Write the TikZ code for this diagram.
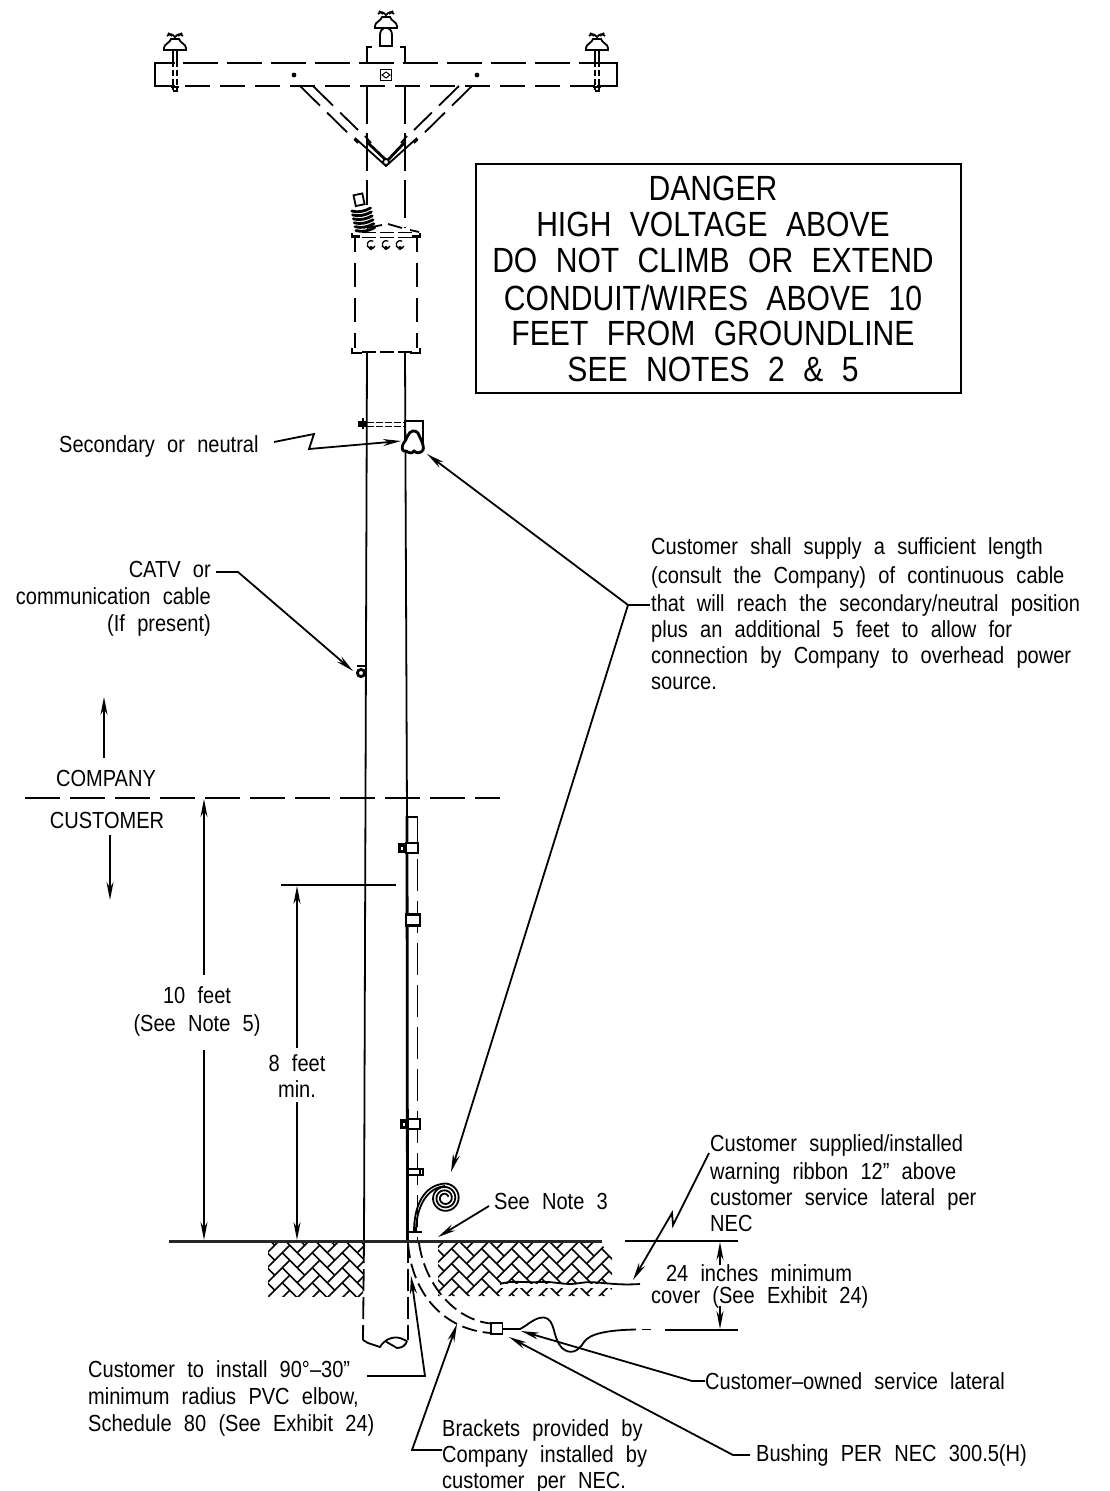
\documentclass[tikz,border=0pt]{standalone}
\usepackage{fontspec}
\usetikzlibrary{arrows.meta}
\setmainfont[WordSpace=2.2,FakeStretch=0.86]{Liberation Sans}
\newcommand{\capsz}{\fontsize{35}{35}\selectfont}
\newcommand{\txtsz}{\fontsize{23.3}{26}\selectfont}
\tikzset{
  ln/.style={line width=1.8pt},
  thk/.style={line width=2.8pt},
  thn/.style={line width=1.1pt},
  ar/.style={ln,-{Stealth[length=18pt,width=7pt]}},
  longdash/.style={ln,dash pattern=on 35pt off 9pt},
  meddash/.style={ln,dash pattern=on 25pt off 10pt},
  shortdash/.style={ln,dash pattern=on 15pt off 6pt},
  lbl/.style={inner sep=0pt,font=\txtsz,align=left},
  capl/.style={inner sep=0pt,font=\capsz,align=center},
  insul/.pic={
    \draw[ln] (-8,3) .. controls (-5,0) and (-3,1) .. (0,4) .. controls (3,1) and (5,0) .. (8,3);
    \draw[ln] (-7,0) -- (-3,3) (7,0) -- (3,3);
    \draw[ln,fill=white] (-4,6) .. controls (-5,10) and (-11,11) .. (-11,15) -- (-11,17) -- (11,17) -- (11,15) .. controls (11,11) and (5,10) .. (4,6) -- cycle;
  },
  pinrod/.pic={
    \draw[line width=1.5pt] (-2,0) -- (-2,11) (2,0) -- (2,11);
    \draw[line width=1.5pt,dash pattern=on 6pt off 3pt] (-2,11) -- (-2,40) (2,11) -- (2,40);
    \draw[thk] (-4,37) -- (4,37) (-2.5,41) -- (2.5,41);
  },
  hbone/.pic={
    \foreach \n in {-16,...,16}{\foreach \m in {-8,...,8}{
      \pgfmathsetmacro{\s}{\n+4*\m}
      \draw[line width=1.6pt] (\s,-\n) -- (\s+3,-\n);
      \draw[line width=1.6pt] (1+\n,-\s) -- (1+\n,-\s-3);
    }}
  }
}
\begin{document}
\begin{tikzpicture}[x=1pt,y=-1pt]
\useasboundingbox (0,0) rectangle (1110,1491);
% ---- crossarm
\draw[ln] (175,63) -- (155,63) -- (155,86) -- (175,86);
\draw[ln] (597,63) -- (617,63) -- (617,86) -- (597,86);
\draw[longdash] (183,63) -- (597,63);
\draw[meddash] (185,86) -- (597,86);
% ---- pole top
\draw[ln] (367,62) -- (367,47) -- (372,47);
\draw[ln] (400,47) -- (405,47) -- (405,62);
\draw[ln] (380,46) -- (380,35) .. controls (380,31) and (382,29) .. (384,28) -- (388,28) .. controls (390,29) and (392,31) .. (392,35) -- (392,46) -- cycle;
\pic at (386,11) {insul};
\pic at (175,33) {insul};
\pic at (597,33) {insul};
\pic at (175,50) {pinrod};
\pic at (597,50) {pinrod};
\fill (294,75) circle (2.4);
\fill (477,75) circle (2.4);
\draw[ln] (380.5,69.5) rectangle (391.5,80.5);
\draw[line width=1pt] (386,72) -- (390,75) -- (386,78) -- (382,75) -- cycle;
% pole above transformer
\draw[ln,dash pattern=on 38pt off 9pt] (367,86) -- (367,205);
\draw[ln,dash pattern=on 38pt off 9pt] (405,86) -- (405,228);
% braces
\draw[ln,dash pattern=on 28pt off 10pt] (300,86) -- (358,143);
\draw[ln,dash pattern=on 28pt off 10pt] (313,86) -- (358,130);
\draw[ln,dash pattern=on 28pt off 10pt] (472,86) -- (414,143);
\draw[ln,dash pattern=on 28pt off 10pt] (459,86) -- (414,130);
\draw[ln] (355,138) -- (386,166) -- (417,138);
\draw[thk] (367,142) -- (387,161) -- (405,142);
\draw[ln] (365,136) -- (371,143) (407,136) -- (401,143);
\draw[ln,fill=white] (386,162) circle (3);
% ---- transformer
\draw[thk] (352,233) -- (352,238) (420,233) -- (420,238) ;
\draw[thk] (352,236.5) -- (360,236.5) (412,236.5) -- (420,236.5);
\draw[ln,dash pattern=on 14pt off 4pt] (362,232.5) -- (412,232.5);
\draw[ln,dash pattern=on 14pt off 4pt] (362,237.5) -- (412,237.5);
\draw[ln] (367,228) -- (382,225) (388,224) -- (402,228) (410,230) -- (419,232);
\draw[ln,dash pattern=on 24pt off 11pt] (355,238) -- (355,252) (355,263) -- (355,348);
\draw[ln,dash pattern=on 24pt off 11pt] (417,238) -- (417,252) (417,263) -- (417,348);
\draw[thk] (352,348) -- (352,353) -- (362,353) (420,348) -- (420,353) -- (410,353);
\draw[ln,dash pattern=on 14pt off 4pt] (362,352) -- (412,352);
\foreach \bx in {371,386,400}{
  \draw[line width=1.3pt] (\bx+4,246) arc (20:300:4);
  \fill (\bx,248) circle (2);
}
% bushing
\begin{scope}[shift={(362,216)},rotate=12]
  \draw[ln,fill=white] (-4,-22) rectangle (5,-11);
  \foreach \cy in {-7,-3,1,5,9,13}{\draw[thk,line cap=round] (-9,\cy) .. controls (-3,\cy+3) and (3,\cy+3) .. (10,\cy+1);}
\end{scope}
% ---- pole lower part
\draw[ln] (367,353) -- (364,1241);
\draw[ln] (405,353) -- (407,816);
\draw[thk] (407,816) -- (407.5,1241);
\draw[ln,dash pattern=on 22pt off 6pt] (364,1241) -- (363,1340);
\draw[ln,dash pattern=on 22pt off 6pt] (408,1241) -- (408,1340);
\draw[ln] (363,1340) -- (368,1343) -- (380,1347) .. controls (384,1340) and (392,1336) .. (400,1338) -- (407,1341);
\draw[ln] (385,1341) -- (397,1348) .. controls (402,1348) and (406,1345) .. (407,1341);
% ---- secondary rack
\draw[ln,dash pattern=on 7pt off 2pt] (367,422.5) -- (405,422.5);
\draw[ln,dash pattern=on 7pt off 2pt] (367,426.5) -- (405,426.5);
\fill (358,421) rectangle (366,427);
\draw[thk] (363,418) -- (363,429);
\draw[thk] (405,443) -- (405,421) -- (423,421) -- (423,445);
\draw[thk,fill=white] (413,431) .. controls (408,431) and (407,440) .. (403,444) .. controls (401,449) and (403,452) .. (406,451) .. controls (409,453) and (412,454) .. (414,451) .. controls (417,454) and (421,453) .. (423,450) .. controls (425,446) and (419,436) .. (418,433) .. controls (416,431) and (415,431) .. (413,431) -- cycle;
% ---- comm cable
\draw[thk] (361,673) circle (3.6);
\draw[ln] (357,666) -- (365,666);
% ---- riser
\draw[ln] (407,817) -- (417.5,817);
\draw[ln,dash pattern=on 32pt off 10pt] (417.5,817) -- (417.5,1241);
% brackets
\draw[ln,fill=white] (406,843) rectangle (418,853);
\fill (398,843) rectangle (406,853);
\fill[white] (401,846.5) rectangle (403,849.5);
\draw[thk,fill=white] (406,914.5) rectangle (420,925.5);
\draw[ln,fill=white] (408,1119) rectangle (420,1129);
\fill (400,1119) rectangle (408,1129);
\fill[white] (403,1122.5) rectangle (405,1125.5);
\draw[ln,fill=white] (408,1169) rectangle (420,1175);
\draw[thk] (420,1169) -- (423,1169) -- (423,1175) -- (420,1175);
\draw[thk] (407,1232) -- (422,1232);
% ---- coil
\draw[ln] (414,1232) .. controls (414,1205) and (424,1185) .. (445,1183.5);
\draw[ln] (416,1232) .. controls (416,1208) and (426,1188) .. (445,1186);
\draw[ln,smooth] plot[domain=0:1150,samples=160] ({445+(14.5-\x/1150*11)*sin(\x)},{1198-(14.5-\x/1150*11)*cos(\x)});
% ---- ground + hatch
\begin{scope}
  \clip (268,1243) rectangle (363,1296);
  \pic[rotate=45,scale=10.6] at (267.3,1267.7) {hbone};
\end{scope}
\begin{scope}
  \clip (438,1243) -- (600,1243) -- (612,1255) -- (612,1296) -- (438,1296) -- cycle;
  \pic[rotate=45,scale=10.6] at (466.7,1293.6) {hbone};
  \fill[white] (500,1284) rectangle (612,1288);
\end{scope}
\draw[line width=2.2pt,black!85] (169,1241.5) -- (602,1241.5);
% ribbon
\draw[ln] (500,1284) .. controls (512,1280) and (525,1283) .. (540,1282) .. controls (555,1281) and (565,1286) .. (580,1283) .. controls (595,1280) and (610,1286) .. (640,1284);
% elbow
\draw[shortdash] (408,1243) .. controls (412,1295) and (445,1330) .. (491,1333);
\draw[shortdash] (419,1243) .. controls (425,1285) and (455,1320) .. (491,1323.5);
\draw[ln,fill=white] (491,1322.7) rectangle (502.5,1334);
% service lateral
\draw[ln] (502.5,1329) -- (520,1329) .. controls (528,1325) and (535,1317) .. (544,1317.5) .. controls (556,1319) and (552,1338) .. (562,1348) .. controls (570,1355) and (578,1352) .. (584,1342) .. controls (590,1333) and (610,1330) .. (636,1329.5);
\draw[ln] (642,1329.5) -- (651,1329.5);
% ---- dimension lines
\draw[ln,dash pattern=on 35pt off 10pt] (25,798) -- (500,798);
\draw[ln] (281,885) -- (396,885);
\draw[ln] (625,1241) -- (738,1241);
\draw[ln] (665,1330) -- (738,1330);
% ---- danger box
\draw[ln] (476,164) rectangle (961,393);
\node[capl] (d1) at (713,188) {DANGER};
\node[capl] (d2) at (713,224) {HIGH VOLTAGE ABOVE};
\node[capl] (d3) at (713,260) {DO NOT CLIMB OR EXTEND};
\node[capl] (d4) at (713,298) {CONDUIT/WIRES ABOVE 10};
\node[capl] (d5) at (713,333) {FEET FROM GROUNDLINE};
\node[capl] (d6) at (713,369) {SEE NOTES 2 \& 5};
% ---- labels
\node[lbl,anchor=west] (sec) at (59,446) {Secondary or neutral};
\node[lbl,anchor=north east,align=right] (catv) at (211,561) {CATV or\\[1pt]communication cable\\[1pt](If present)};
\node[lbl,anchor=north west] (sup) at (651,537) {Customer shall supply a sufficient length\\[3pt](consult the Company) of continuous cable\\[2pt]that will reach the secondary/neutral position\\plus an additional 5 feet to allow for\\connection by Company to overhead power\\source.};
\node[lbl,anchor=center] (comp) at (106,778) {COMPANY};
\node[lbl,anchor=center] (cust) at (107,820) {CUSTOMER};
\node[lbl,anchor=center,align=center] (ten) at (197,1011) {10 feet\\[2pt](See Note 5)};
\node[lbl,anchor=center,align=center] (eight) at (297,1076) {8 feet\\min.};
\node[lbl,anchor=west] (n3) at (494,1201) {See Note 3};
\node[lbl,anchor=north west] (rib) at (710,1134) {Customer supplied/installed\\[2pt]warning ribbon 12” above\\customer service lateral per\\NEC};
\node[lbl,anchor=center,align=center] (c24a) at (759,1273) {24 inches minimum};
\node[lbl,anchor=west] (c24b) at (651,1297) {cover (See Exhibit 24)};
\node[lbl,anchor=west] (own) at (705,1381) {Customer–owned service lateral};
\node[lbl,anchor=west] (bush) at (756,1455) {Bushing PER NEC 300.5(H)};
\node[lbl,anchor=north west] (elb) at (88,1360) {Customer to install 90°–30”\\[1pt]minimum radius PVC elbow,\\[1pt]Schedule 80 (See Exhibit 24)};
\node[lbl,anchor=north west] (brk) at (442,1419) {Brackets provided by\\Company installed by\\customer per NEC.};
% ---- named ends
\coordinate (tsec) at (401,441);
\coordinate (tcatv) at (353,671);
\coordinate (jn) at (628,605);
\coordinate (tcoil) at (451,1172);
\coordinate (ttop) at (427,454);
% ---- leaders
\draw[ar] (274,442) -- (314,434) -- (309,449) -- (tsec);
\draw[ar] (216,572) -- (238,572) -- (tcatv);
\draw[ln] (650,605) -- (jn);
\draw[ar] (jn) -- (ttop);
\draw[ar] (jn) -- (tcoil);
\draw[ar] (104,758) -- (104,697);
\draw[ar] (110,835) -- (110,900);
\draw[ar] (204,975) -- (204,799);
\draw[ar] (204,1050) -- (204,1240);
\draw[ar] (297,1048) -- (297,886);
\draw[ar] (297,1102) -- (297,1240);
\draw[ar] (489,1206) -- (438,1237);
\draw[ar] (709,1153) -- (673,1225) -- (672,1213) -- (633,1280);
\draw[ar] (720,1265) -- (720,1242);
\draw[ar] (720,1306) -- (720,1329);
\draw[ar] (705,1381) -- (692,1381) -- (521,1331);
\draw[ar] (750,1455) -- (733,1455) -- (509,1337);
\draw[ar] (367,1376) -- (425,1376) -- (411,1276);
\draw[ar] (442,1450) -- (412,1450) -- (457,1324);
\end{tikzpicture}
\end{document}
